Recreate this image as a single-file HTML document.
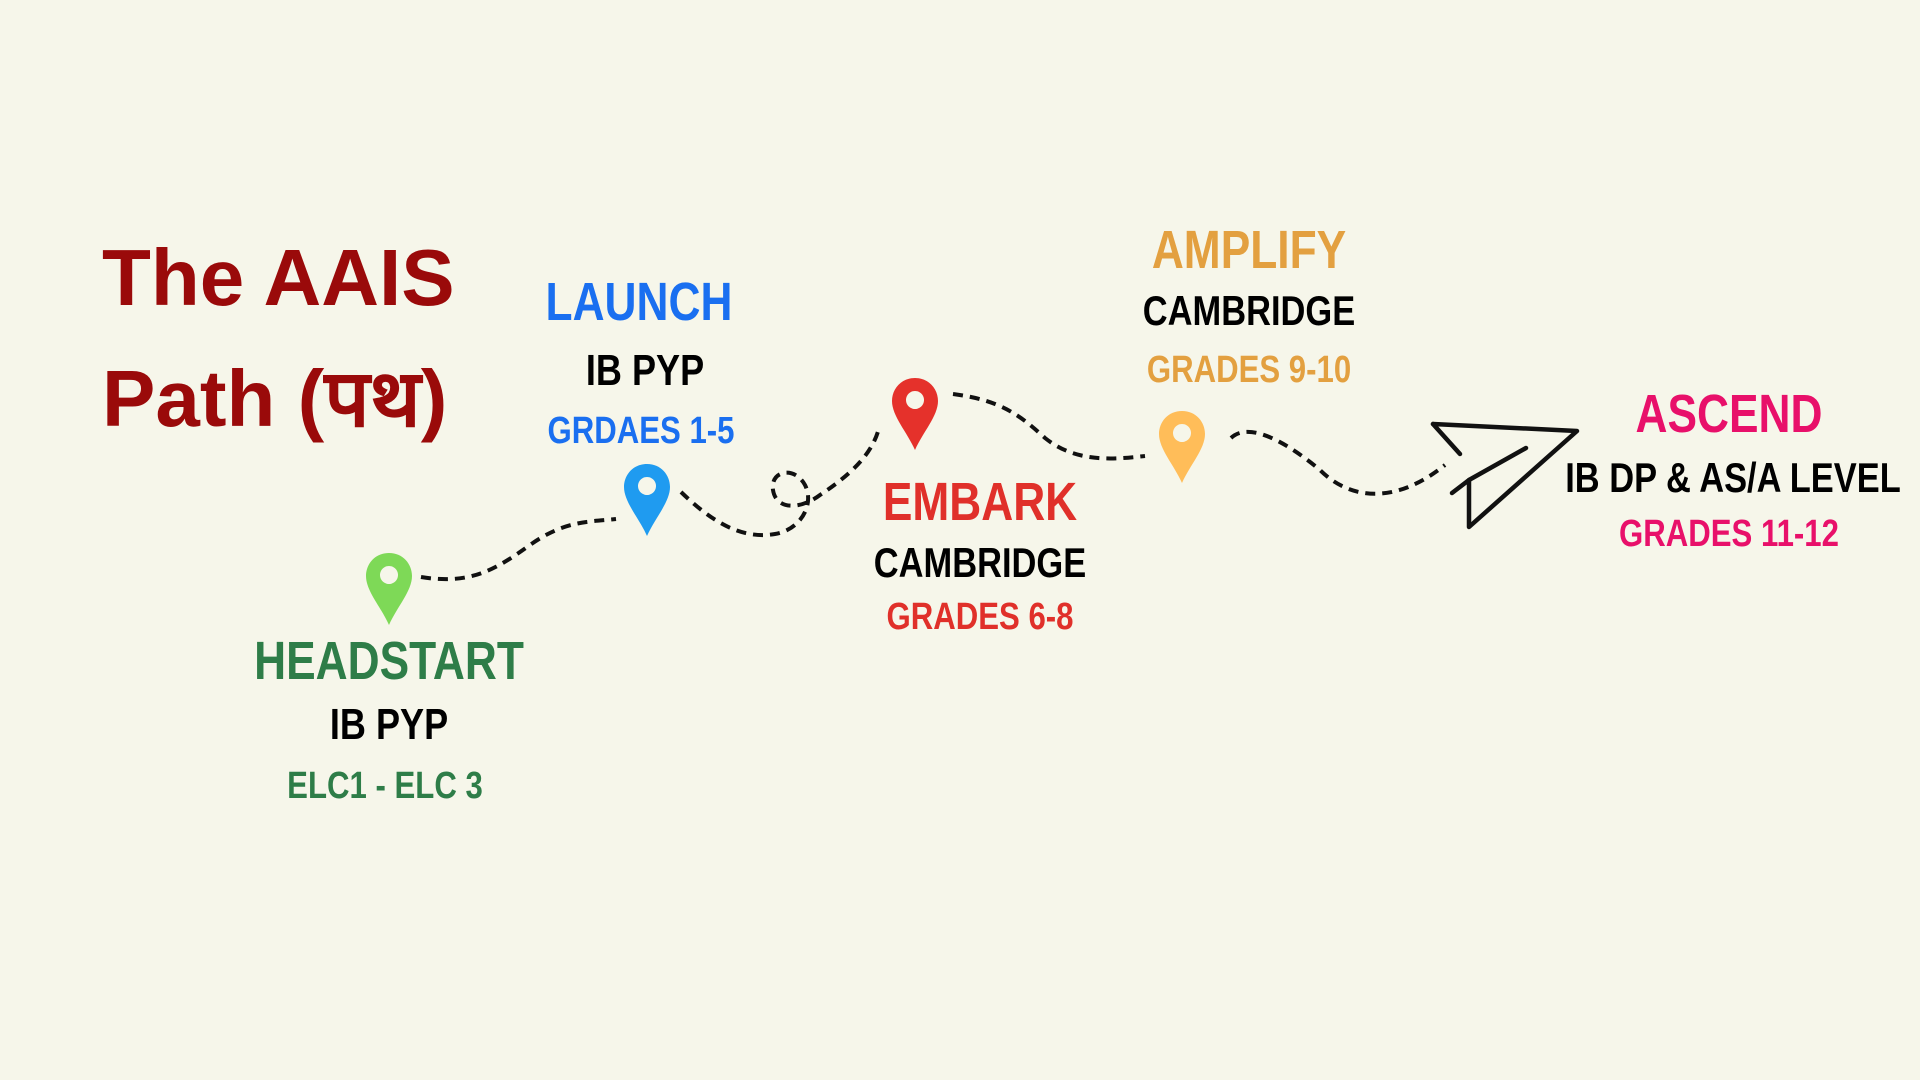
<!DOCTYPE html>
<html><head><meta charset="utf-8"><style>
body{margin:0;width:1920px;height:1080px;background:#f6f6ea;overflow:hidden;position:relative;font-family:"Liberation Sans",sans-serif}
.t{position:absolute;font-weight:bold;white-space:nowrap;transform:translate(-50%,-50%) scaleX(0.82);line-height:1}
.title{position:absolute;left:102px;color:#9a0a0a;font-weight:bold;font-size:80px;line-height:1;letter-spacing:0px;font-family:"Liberation Sans","Noto Sans CJK SC",sans-serif}
svg{position:absolute;left:0;top:0}
</style></head><body>
<svg width="1920" height="1080">
<defs><path id="pin" d="M0,-32 C-14,-32 -23,-21 -23,-9 C-23,6 -8,22 0,40 C8,22 23,6 23,-9 C23,-21 14,-32 0,-32 Z M0,-19 a9,9 0 1,0 0.01,0 Z" fill-rule="evenodd"/></defs>
<g fill="none" stroke="#111" stroke-width="4" stroke-dasharray="10,7">
<path d="M421,577 C470,585 495,570 530,545 S590,522 616,519"/>
<path d="M681,492 C710,520 740,540 775,534 C800,530 815,505 805,485 C795,466 770,470 773,490 C776,510 800,510 820,495 C850,475 872,455 879,428"/>
<path d="M953,394 C1000,400 1020,415 1045,438 C1075,462 1110,460 1145,456"/>
<path d="M1231,438 C1250,420 1290,445 1320,470 C1350,500 1395,505 1445,465"/>
</g>
<g fill="none" stroke="#111" stroke-width="4.5" stroke-linejoin="round" stroke-linecap="round">
<path d="M1433,424 L1577,431 L1469,527 L1469,480 L1452,493"/>
<path d="M1433,424 L1460,454"/>
<path d="M1469,480 L1526,448"/>
</g>
<use href="#pin" x="389" y="585" fill="#7ed957"/>
<use href="#pin" x="647" y="496" fill="#1f9bf0"/>
<use href="#pin" x="915" y="410" fill="#e5312b"/>
<use href="#pin" x="1182" y="443" fill="#ffbd59"/>
</svg>
<div class="title" style="top:238px">The AAIS</div>
<div class="title" style="top:359px">Path (पथ)</div>

<div class="t" style="left:639px;top:302px;font-size:54px;color:#1a6ff0">LAUNCH</div>
<div class="t" style="left:645px;top:371px;font-size:44px;color:#000">IB PYP</div>
<div class="t" style="left:641px;top:431px;font-size:38px;color:#1a6ff0">GRDAES 1-5</div>

<div class="t" style="left:389px;top:661px;font-size:54px;color:#2e7d48">HEADSTART</div>
<div class="t" style="left:389px;top:725px;font-size:44px;color:#000">IB PYP</div>
<div class="t" style="left:385px;top:786px;font-size:38px;color:#2e7d48">ELC1 - ELC 3</div>

<div class="t" style="left:980px;top:502px;font-size:54px;color:#e0302a">EMBARK</div>
<div class="t" style="left:980px;top:563px;font-size:42px;color:#000">CAMBRIDGE</div>
<div class="t" style="left:980px;top:617px;font-size:38px;color:#e0302a">GRADES 6-8</div>

<div class="t" style="left:1249px;top:250px;font-size:54px;color:#e3a040">AMPLIFY</div>
<div class="t" style="left:1249px;top:311px;font-size:42px;color:#000">CAMBRIDGE</div>
<div class="t" style="left:1249px;top:370px;font-size:38px;color:#e3a040">GRADES 9-10</div>

<div class="t" style="left:1729px;top:414px;font-size:54px;color:#e8106a">ASCEND</div>
<div class="t" style="left:1733px;top:478px;font-size:42px;color:#000">IB DP &amp; AS/A LEVEL</div>
<div class="t" style="left:1729px;top:534px;font-size:38px;color:#e8106a">GRADES 11-12</div>
</body></html>
